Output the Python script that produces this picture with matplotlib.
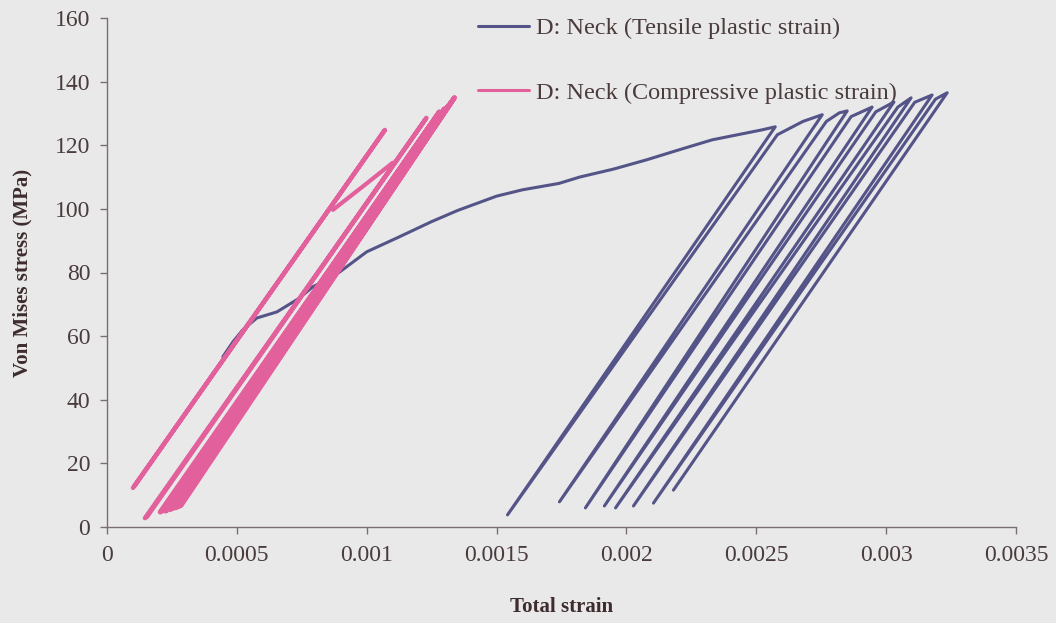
import matplotlib
matplotlib.use("Agg")
import matplotlib.pyplot as plt

# ---- Tensile plastic strain (loading / unloading cycles at the neck) ----
tens_strain = [
    0.000446, 0.000485, 0.000523, 0.000577, 0.000654, 0.000742, 0.000792,
    0.000870, 0.001000, 0.001120, 0.001250, 0.001350, 0.001500, 0.001600,
    0.001740, 0.001820, 0.001950, 0.002077, 0.002200,
    0.002330, 0.002520, 0.002573,
    0.001542, 0.002581, 0.002680, 0.002754,
    0.001742, 0.002770, 0.002820, 0.002850,
    0.001842, 0.002865, 0.002946,
    0.001915, 0.002960, 0.003030,
    0.001958, 0.003045, 0.003096,
    0.002027, 0.003110, 0.003177,
    0.002104, 0.003190, 0.003235,
    0.002181,
]
tens_stress = [
    53.5, 58.2, 62.0, 65.7, 67.6, 72.0, 75.5,
    78.6, 86.5, 91.0, 96.0, 99.5, 104.0, 106.0,
    108.0, 110.0, 112.5, 115.4, 118.5,
    121.7, 124.8, 125.8,
    3.8, 123.3, 127.5, 129.6,
    7.9, 127.5, 130.2, 130.8,
    6.0, 129.0, 132.0,
    6.6, 130.5, 133.6,
    6.0, 132.0, 134.9,
    6.6, 133.5, 135.8,
    7.5, 134.5, 136.5,
    11.6,
]

# ---- Compressive plastic strain (near-elastic cycles) ----
comp_segments = [
    # (strain list, stress list, line width)
    ([0.000100, 0.001070, 0.000105], [12.3, 124.8, 12.8], 3.2),
    ([0.000870, 0.001000, 0.001100], [99.7, 108.0, 114.5], 3.0),
    ([0.000146, 0.001230, 0.000153], [2.8, 128.6, 3.1], 3.2),
    ([0.000205, 0.001280, 0.000212], [4.7, 130.5, 5.0], 3.6),
    ([0.000225, 0.001300, 0.000232], [5.0, 131.5, 5.3], 3.6),
    ([0.000245, 0.001315, 0.000252], [5.5, 132.5, 5.8], 3.6),
    ([0.000262, 0.001325, 0.000270], [6.0, 133.5, 6.2], 3.6),
    ([0.000278, 0.001338, 0.000285], [6.5, 135.0, 6.8], 3.6),
]

x_ticks = [0, 0.0005, 0.001, 0.0015, 0.002, 0.0025, 0.003, 0.0035]
x_tick_labels = ["0", "0.0005", "0.001", "0.0015", "0.002", "0.0025", "0.003", "0.0035"]
y_ticks = [0, 20, 40, 60, 80, 100, 120, 140, 160]

label_tensile = "D: Neck (Tensile plastic strain)"
label_comp = "D: Neck (Compressive plastic strain)"

navy = "#545489"
pink = "#e2609c"
bg = "#e9e9e9"
txt = "#4a3b3d"

plt.rcParams["font.family"] = ["Liberation Serif", "DejaVu Serif"]

fig = plt.figure(figsize=(10.56, 6.23), dpi=100, facecolor=bg)
ax = fig.add_axes([107 / 1056, 1 - 527 / 623, (1016 - 107) / 1056, (527 - 18) / 623])
ax.set_facecolor(bg)

h_t, = ax.plot(tens_strain, tens_stress, color=navy, lw=2.2,
               solid_joinstyle="round", solid_capstyle="round", zorder=2)
h_c = None
for sx, sy, w in comp_segments:
    line, = ax.plot(sx, sy, color=pink, lw=w, solid_joinstyle="round",
                    solid_capstyle="round", zorder=3)
    if h_c is None:
        h_c = line

ax.set_xlim(0, 0.0035)
ax.set_ylim(0, 160)
ax.set_xticks(x_ticks)
ax.set_xticklabels(x_tick_labels)
ax.set_yticks(y_ticks)

for side in ("top", "right"):
    ax.spines[side].set_visible(False)
for side in ("left", "bottom"):
    ax.spines[side].set_color("#7a6f70")
    ax.spines[side].set_linewidth(1.0)

ax.tick_params(axis="both", direction="out", length=5, width=1.0,
               color="#7a6f70", labelcolor=txt, labelsize=17)
ax.tick_params(axis="x", pad=8)
ax.tick_params(axis="y", pad=7)

ax.set_xlabel("Total strain", fontsize=15, fontweight="bold", color="#3e2c2e", labelpad=22)
ax.set_ylabel("Von Mises stress (MPa)", fontsize=15, fontweight="bold", color="#3e2c2e", labelpad=16)

leg = ax.legend([h_t, h_c], [label_tensile, label_comp], loc="upper left",
                bbox_to_anchor=(478 / 1056, 1 - 17 / 623), bbox_transform=fig.transFigure,
                frameon=False, fontsize=17.5, handlelength=2.1, handletextpad=0.3,
                labelspacing=1.75, borderpad=0, borderaxespad=0)
for t in leg.get_texts():
    t.set_color(txt)
for lh in leg.get_lines():
    lh.set_linewidth(2.2)
leg.set_zorder(1)

fig.savefig("out.png", dpi=100, facecolor=bg)
